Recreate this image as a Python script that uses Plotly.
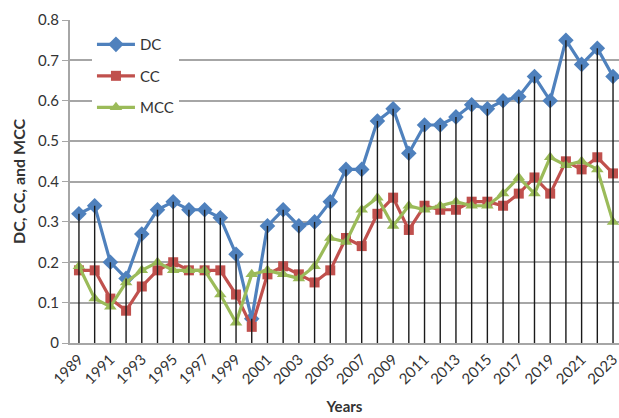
import plotly.graph_objects as go

# Yearly scores for the three measures
years = list(range(1989, 2024))
dc = [0.32, 0.34, 0.20, 0.16, 0.27, 0.33, 0.35, 0.33, 0.33, 0.31,
      0.22, 0.06, 0.29, 0.33, 0.29, 0.30, 0.35, 0.43, 0.43, 0.55,
      0.58, 0.47, 0.54, 0.54, 0.56, 0.59, 0.58, 0.60, 0.61, 0.66,
      0.60, 0.75, 0.69, 0.73, 0.66]
cc = [0.18, 0.18, 0.11, 0.08, 0.14, 0.18, 0.20, 0.18, 0.18, 0.18,
      0.12, 0.04, 0.17, 0.19, 0.17, 0.15, 0.18, 0.26, 0.24, 0.32,
      0.36, 0.28, 0.34, 0.33, 0.33, 0.35, 0.35, 0.34, 0.37, 0.41,
      0.37, 0.45, 0.43, 0.46, 0.42]
mcc = [0.19, 0.11, 0.09, 0.15, 0.18, 0.20, 0.18, 0.18, 0.18, 0.12,
       0.05, 0.17, 0.18, 0.17, 0.16, 0.19, 0.26, 0.25, 0.33, 0.36,
       0.29, 0.34, 0.33, 0.34, 0.35, 0.34, 0.34, 0.37, 0.41, 0.37,
       0.46, 0.44, 0.45, 0.43, 0.30]

FONT = "Lato"
GRID = "#a6a6a6"
TXT = "#333333"

fig = go.Figure()

series = [
    ("DC", dc, "#4f81bd", "diamond", 12),
    ("CC", cc, "#c0504d", "square", 10),
    ("MCC", mcc, "#9bbb59", "triangle-up", 11),
]
for name, vals, color, sym, size in series:
    fig.add_trace(go.Scatter(
        x=years, y=vals, name=name, mode="lines+markers",
        legendgroup=name,
        line=dict(color=color, width=3.2),
        marker=dict(symbol=sym, size=size, color=color),
    ))

# Drop lines from each DC point down to the axis
dx, dy = [], []
for x, v in zip(years, dc):
    dx += [x, x, None]
    dy += [0, v, None]
fig.add_trace(go.Scatter(
    x=dx, y=dy, mode="lines", showlegend=False, hoverinfo="skip",
    line=dict(color="#1a1a1a", width=1.4),
))

fig.update_layout(
    width=619, height=418,
    margin=dict(l=70, r=0, t=20, b=75),
    paper_bgcolor="white", plot_bgcolor="white",
    font=dict(family=FONT, color=TXT, size=14),
    legend=dict(
        x=0.04, y=0.975, xanchor="left", yanchor="top",
        bgcolor="white", font=dict(family=FONT, size=15, color=TXT),
        traceorder="grouped", tracegroupgap=9, itemwidth=38,
    ),
    showlegend=True,
)
fig.update_xaxes(
    range=[1988.43, 2023.38], tick0=1989, dtick=2, tickangle=-45,
    showgrid=False, zeroline=False, showline=True, linecolor=GRID, linewidth=1.5,
    ticks="", ticklabeloverflow="allow",
    tickfont=dict(family=FONT, size=15, color=TXT),
    title=dict(text="<b>Years</b>", font=dict(family=FONT, size=15, color=TXT), standoff=15),
)
fig.update_yaxes(
    range=[0, 0.8], dtick=0.1, tickformat="~g",
    showgrid=True, gridcolor=GRID, gridwidth=1.5, zeroline=False,
    showline=True, linecolor=GRID, linewidth=2,
    ticks="outside", ticklen=6, tickcolor=GRID,
    tickfont=dict(family=FONT, size=15, color=TXT),
    title=dict(text="<b>DC, CC, and MCC</b>", font=dict(family=FONT, size=16, color=TXT), standoff=8),
)

fig.write_html("out.html")
